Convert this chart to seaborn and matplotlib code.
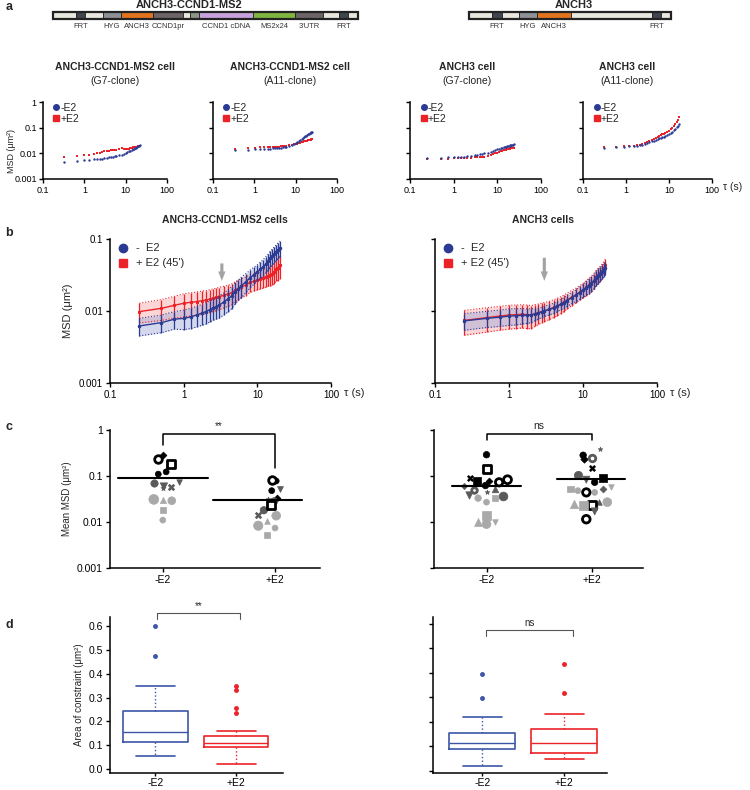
import numpy as np
import pandas as pd
import matplotlib
matplotlib.use("Agg")
import matplotlib.pyplot as plt
from matplotlib.lines import Line2D
from matplotlib.ticker import NullLocator
import seaborn as sns

sns.set_style("ticks")
plt.rcParams['font.family'] = ['Liberation Sans', 'DejaVu Sans']
plt.rcParams['font.size'] = 7.5
plt.rcParams['axes.edgecolor'] = 'black'
plt.rcParams['xtick.color'] = 'black'
plt.rcParams['ytick.color'] = 'black'

BLUE = "#2b3a93"
RED = "#ec2229"
LBLUE = "#9fa9d6"
LRED = "#f6a5a8"
SHADE = {'k': '#000000', 'd': '#5a5a5a', 'l': '#a9a9a9'}

# === gene constructs (segment widths, colours, labels) ===
gene1_w = [23, 9, 18, 18, 32, 30, 7, 9, 54, 42, 28, 16, 9, 10]
gene1_c = ['#e8e8de', '#40464e', '#e8e8de', '#8e9198', '#e2741f', '#6d6467', '#e8e8de',
           '#8d9586', '#c7a2dc', '#80b640', '#6d6467', '#e8e8de', '#40464e', '#e8e8de']
gene1_lab = ['', 'FRT', '', 'HYG', 'ANCH3', 'CCND1pr', '', '', 'CCND1 cDNA', 'MS2x24',
             "3'UTR", '', 'FRT', '']
gene2_w = [23, 10, 17, 18, 34, 81, 9, 10]
gene2_c = ['#e8e8de', '#40464e', '#e8e8de', '#8e9198', '#e2741f', '#e8e8de', '#40464e', '#e8e8de']
gene2_lab = ['', 'FRT', '', 'HYG', 'ANCH3', '', 'FRT', '']

# === a: MSD curves per clone ===
tau_a1 = [0.33, 0.67, 1.0, 1.33, 1.67, 2.0, 2.33, 2.67, 3.0, 3.5, 4.0, 4.5, 5.0, 5.5, 6.0, 7.0,
          8.0, 9.0, 10.0, 11.0, 12.0, 13.0, 14.0, 15.0, 16.0, 17.0, 18.0, 19.0, 20.0, 21.0, 22.0]
a1_neg = [0.0048, 0.005, 0.0055, 0.0056, 0.0058, 0.0059, 0.006, 0.0062, 0.0064, 0.0066, 0.0069,
          0.0071, 0.0074, 0.0076, 0.0079, 0.0084, 0.009, 0.0095, 0.0102, 0.011, 0.0118, 0.0127,
          0.0135, 0.0143, 0.015, 0.0158, 0.0166, 0.0175, 0.0185, 0.0196, 0.0208]
a1_pos = [0.0072, 0.0078, 0.0086, 0.009, 0.0094, 0.0099, 0.0105, 0.0115, 0.0125, 0.0126, 0.0128,
          0.013, 0.0135, 0.0138, 0.014, 0.015, 0.0156, 0.015, 0.0143, 0.0145, 0.015, 0.0158,
          0.0165, 0.017, 0.0172, 0.0175, 0.0178, 0.018, 0.0185, 0.0188, 0.019]

tau_a2 = [0.35, 0.7, 1.05, 1.4, 1.75, 2.1, 2.45, 2.8, 3.15, 3.5, 4.0, 4.5, 5.0, 5.5, 6.0, 7.0,
          8.0, 9.0, 10.0, 11.0, 12.0, 13.0, 14.0, 15.0, 16.0, 17.0, 18.0, 19.0, 20.0, 21.0, 22.0,
          23.0, 24.0, 25.0]
a2_neg = [0.0135, 0.0137, 0.0143, 0.0146, 0.0149, 0.0151, 0.0153, 0.0155, 0.0156, 0.0158, 0.016,
          0.0163, 0.017, 0.0175, 0.018, 0.019, 0.021, 0.023, 0.026, 0.028, 0.031, 0.034, 0.037,
          0.04, 0.043, 0.046, 0.049, 0.052, 0.055, 0.058, 0.061, 0.064, 0.067, 0.07]
a2_pos = [0.0147, 0.0155, 0.0166, 0.017, 0.0172, 0.0175, 0.0177, 0.0178, 0.018, 0.0182, 0.0184,
          0.0186, 0.019, 0.0195, 0.02, 0.021, 0.022, 0.0225, 0.023, 0.024, 0.025, 0.026, 0.027,
          0.028, 0.029, 0.0298, 0.0305, 0.031, 0.032, 0.033, 0.034, 0.0345, 0.035, 0.036]

tau_a3 = [0.25, 0.5, 0.75, 1.0, 1.25, 1.5, 1.75, 2.0, 2.5, 3.0, 3.5, 4.0, 4.5, 5.0, 6.0, 7.0,
          8.0, 9.0, 10.0, 11.0, 12.0, 13.0, 14.0, 15.0, 16.0, 17.0, 18.0, 19.0, 20.0, 21.0, 22.0,
          23.0, 24.0]
a3_neg = [0.0067, 0.0068, 0.0069, 0.007, 0.0071, 0.0072, 0.0074, 0.0078, 0.0082, 0.0086, 0.009,
          0.0093, 0.0096, 0.01, 0.0107, 0.0115, 0.0125, 0.0135, 0.0145, 0.0153, 0.016, 0.0166,
          0.0172, 0.0178, 0.0184, 0.019, 0.0195, 0.02, 0.0205, 0.021, 0.0215, 0.022, 0.0225]
a3_pos = [0.0058, 0.006, 0.0062, 0.0063, 0.0064, 0.0065, 0.0066, 0.0067, 0.0068, 0.0069, 0.007,
          0.0071, 0.0072, 0.0074, 0.008, 0.0088, 0.0095, 0.0101, 0.0106, 0.0112, 0.0118, 0.0124,
          0.013, 0.0135, 0.014, 0.0144, 0.0148, 0.0152, 0.0155, 0.0158, 0.016, 0.0162, 0.0164]

tau_a4 = [0.3, 0.6, 0.9, 1.2, 1.5, 1.8, 2.1, 2.4, 2.7, 3.0, 3.5, 4.0, 4.5, 5.0, 5.5, 6.0, 6.5,
          7.0, 7.5, 8.0, 9.0, 10.0, 11.0, 12.0, 13.0, 14.0, 15.0, 16.0, 17.0]
a4_neg = [0.0158, 0.017, 0.018, 0.0185, 0.019, 0.02, 0.021, 0.022, 0.0235, 0.025, 0.027, 0.029,
          0.031, 0.034, 0.036, 0.038, 0.04, 0.042, 0.045, 0.047, 0.051, 0.055, 0.062, 0.07, 0.08,
          0.092, 0.105, 0.12, 0.14]
a4_pos = [0.017, 0.0178, 0.0185, 0.019, 0.02, 0.021, 0.022, 0.024, 0.0255, 0.027, 0.03, 0.033,
          0.036, 0.04, 0.043, 0.047, 0.051, 0.055, 0.059, 0.063, 0.068, 0.075, 0.088, 0.1, 0.12,
          0.145, 0.17, 0.205, 0.25]

# === b: averaged MSD with SD ===
tau_b = [0.25, 0.5, 0.75, 1.0, 1.25, 1.5, 1.75, 2.0, 2.25, 2.5, 2.75, 3.0, 3.5, 4.0, 4.5, 5.0,
         5.5, 6.0, 7.0, 8.0, 9.0, 10.0, 11.0, 12.0, 13.0, 14.0, 15.0, 16.0, 17.0, 18.0, 19.0, 20.0]
bL_neg = [0.0062, 0.0069, 0.0077, 0.0079, 0.0083, 0.0088, 0.0093, 0.0098, 0.0104, 0.011, 0.0115,
          0.012, 0.0133, 0.0147, 0.0163, 0.0185, 0.0205, 0.0222, 0.0255, 0.029, 0.032, 0.035,
          0.038, 0.041, 0.045, 0.049, 0.054, 0.058, 0.062, 0.066, 0.07, 0.075]
bL_neg_sd = [0.0017, 0.0019, 0.0021, 0.0024, 0.0026, 0.0028, 0.003, 0.0032, 0.0034, 0.0036,
             0.0038, 0.0041, 0.0045, 0.005, 0.0055, 0.006, 0.0065, 0.007, 0.0075, 0.008, 0.0085,
             0.0088, 0.0095, 0.0105, 0.0115, 0.0125, 0.0135, 0.0145, 0.0155, 0.0165, 0.0175, 0.019]
bL_pos = [0.0098, 0.0109, 0.012, 0.0128, 0.0132, 0.0135, 0.0139, 0.0142, 0.0146, 0.015, 0.0154,
          0.0158, 0.0165, 0.0172, 0.018, 0.0195, 0.0205, 0.0215, 0.023, 0.025, 0.026, 0.027,
          0.028, 0.029, 0.03, 0.031, 0.0315, 0.033, 0.035, 0.038, 0.04, 0.043]
bL_pos_sd = [0.003, 0.0035, 0.004, 0.0045, 0.0047, 0.0048, 0.005, 0.005, 0.0051, 0.0052, 0.0053,
             0.0054, 0.0055, 0.0056, 0.0058, 0.006, 0.0062, 0.0064, 0.0066, 0.0068, 0.007, 0.0074,
             0.0078, 0.0082, 0.0086, 0.009, 0.0095, 0.01, 0.011, 0.012, 0.0135, 0.015]
bR_neg = [0.0073, 0.0079, 0.0082, 0.0085, 0.0086, 0.0087, 0.0087, 0.0088, 0.0091, 0.0094, 0.0097,
          0.01, 0.0105, 0.011, 0.0117, 0.0124, 0.013, 0.0138, 0.0153, 0.0165, 0.018, 0.0194,
          0.021, 0.0225, 0.024, 0.026, 0.029, 0.031, 0.033, 0.035, 0.0375, 0.04]
bR_neg_sd = [0.0019, 0.002, 0.0021, 0.0022, 0.0022, 0.0021, 0.002, 0.0019, 0.0018, 0.0017,
             0.0016, 0.0016, 0.0017, 0.0018, 0.0019, 0.002, 0.0022, 0.0024, 0.0027, 0.003, 0.0035,
             0.004, 0.0045, 0.005, 0.0055, 0.006, 0.0065, 0.007, 0.0072, 0.0075, 0.0078, 0.008]
bR_pos = [0.0074, 0.0081, 0.0085, 0.0088, 0.0089, 0.009, 0.0089, 0.0088, 0.0092, 0.0095, 0.0098,
          0.0101, 0.0106, 0.0112, 0.0118, 0.0125, 0.0132, 0.014, 0.0155, 0.0168, 0.0182, 0.0197,
          0.0213, 0.0228, 0.0245, 0.0265, 0.0295, 0.0315, 0.0335, 0.036, 0.039, 0.043]
bR_pos_sd = [0.0028, 0.003, 0.0031, 0.0032, 0.0032, 0.0032, 0.0032, 0.0031, 0.0031, 0.003, 0.003,
             0.003, 0.003, 0.0031, 0.0032, 0.0033, 0.0034, 0.0035, 0.0037, 0.0039, 0.0042,
             0.0045, 0.005, 0.0055, 0.006, 0.0065, 0.007, 0.0075, 0.008, 0.0085, 0.0088, 0.009]

# === c: mean MSD per cell (value, x jitter, marker, shade, size) ===
cL_neg_val = [0.23, 0.29, 0.18, 0.11, 0.123, 0.069, 0.059, 0.054, 0.059, 0.072, 0.031, 0.030, 0.029, 0.018, 0.011]
cL_neg_off = [-0.04, 0.0, 0.07, -0.04, 0.03, -0.08, 0.01, 0.0, 0.07, 0.15, -0.08, 0.0, 0.08, 0.0, 0.0]
cL_neg_mk = ['ring', 'D', 'osq', 'o', 'o', 'o', 'v', '*', 'X', 'v', 'o', '^', 'o', 's', 'o']
cL_neg_sh = ['k', 'k', 'k', 'k', 'k', 'd', 'd', 'd', 'd', 'd', 'l', 'l', 'l', 'l', 'l']
cL_neg_sz = [30, 12, 30, 18, 18, 28, 28, 14, 28, 16, 50, 20, 32, 18, 18]
cL_pos_val = [0.08, 0.078, 0.048, 0.053, 0.032, 0.028, 0.033, 0.024, 0.018, 0.0145, 0.0083, 0.0103, 0.0137, 0.0074, 0.0053]
cL_pos_off = [-0.03, 0.01, -0.03, 0.04, -0.06, -0.01, 0.02, -0.04, -0.10, -0.15, -0.15, -0.07, 0.01, 0.0, -0.07]
cL_pos_mk = ['ring', 'o', 'o', 'v', '*', 'o', 'D', 'osq', 'o', 'X', 'o', '^', 'o', 'o', 's']
cL_pos_sh = ['k', 'k', 'k', 'd', 'd', 'd', 'k', 'k', 'd', 'd', 'l', 'l', 'l', 'l', 'l']
cL_pos_sz = [30, 18, 18, 18, 12, 28, 12, 30, 28, 28, 45, 16, 40, 18, 16]

cR_neg_val = [0.29, 0.139, 0.091, 0.076, 0.062, 0.077, 0.073, 0.083, 0.061, 0.05, 0.039, 0.052,
              0.044, 0.033, 0.033, 0.036, 0.027, 0.014, 0.01, 0.009, 0.01]
cR_neg_off = [0.0, 0.0, -0.16, -0.09, -0.01, 0.02, 0.12, 0.2, -0.21, -0.12, -0.17, 0.08, 0.0,
              -0.08, 0.08, 0.16, 0.0, 0.0, -0.08, 0.0, 0.08]
cR_neg_mk = ['o', 'osq', 'X', 's', 'o', 'D', 'ring', 'ring', 'D', 'ring', 'v', '^', '*', 'o', 's',
             'o', 'o', 's', '^', 'o', 'v']
cR_neg_sh = ['k', 'k', 'k', 'k', 'k', 'k', 'k', 'k', 'd', 'd', 'd', 'd', 'd', 'l', 'l', 'd', 'l',
             'l', 'l', 'l', 'l']
cR_neg_sz = [22, 32, 26, 32, 22, 12, 28, 32, 10, 16, 28, 22, 12, 22, 22, 40, 18, 40, 32, 40, 16]
cR_pos_val = [0.283, 0.24, 0.25, 0.38, 0.15, 0.107, 0.091, 0.083, 0.073, 0.052, 0.048, 0.044,
              0.044, 0.051, 0.057, 0.025, 0.023, 0.023, 0.027, 0.027, 0.017, 0.0115]
cR_pos_off = [-0.08, -0.07, 0.0, 0.08, 0.0, -0.13, 0.11, -0.05, 0.03, -0.2, -0.13, -0.05, 0.03,
              0.11, 0.19, -0.17, -0.08, 0.0, 0.07, 0.15, 0.03, -0.05]
cR_pos_mk = ['o', 'D', 'ring', '*', 'X', 'o', 's', 'v', 'o', 's', 'o', 'ring', 'o', 'D', 'v', '^',
             's', 'osq', '^', 'o', 'v', 'ring']
cR_pos_sh = ['k', 'k', 'd', 'd', 'k', 'd', 'k', 'd', 'k', 'l', 'l', 'k', 'l', 'd', 'l', 'l', 'l',
             'k', 'd', 'l', 'd', 'k']
cR_pos_sz = [22, 14, 22, 12, 26, 36, 36, 26, 22, 20, 18, 28, 18, 12, 16, 36, 40, 30, 16, 40, 26, 30]

cL_means = [0.09, 0.03]
cR_means = [0.06, 0.087]

# === d: area of constraint box stats ===
dL_med = [0.155, 0.11]
dL_q1 = [0.112, 0.091]
dL_q3 = [0.243, 0.139]
dL_lo = [0.055, 0.02]
dL_hi = [0.35, 0.161]
dL_fl = [[0.477, 0.601], [0.234, 0.255, 0.331, 0.347]]
dR_med = [0.113, 0.113]
dR_q1 = [0.09, 0.073]
dR_q3 = [0.153, 0.17]
dR_lo = [0.02, 0.048]
dR_hi = [0.22, 0.23]
dR_fl = [[0.295, 0.395], [0.315, 0.435]]

cats = ['-E2', '+E2']

W, H = 750, 790
fig = plt.figure(figsize=(7.5, 7.9), dpi=100)


def px_axes(l, t, r, b):
    return fig.add_axes([l / W, 1 - b / H, (r - l) / W, (b - t) / H])


def ftxt(x, y, s, **kw):
    kw.setdefault('ha', 'center')
    kw.setdefault('va', 'center')
    fig.text(x / W, 1 - y / H, s, **kw)


def style_ax(ax, size=7):
    sns.despine(ax=ax)
    ax.spines['left'].set_linewidth(1.1)
    ax.spines['bottom'].set_linewidth(1.1)
    ax.tick_params(length=3, width=1, pad=2, labelsize=size)


def log_axes(ax, ylo, yhi, ylabels=True, size=7):
    ax.set_xscale('log')
    ax.set_yscale('log')
    ax.set_xlim(0.1, 100)
    ax.set_ylim(ylo, yhi)
    ax.set_xticks([0.1, 1, 10, 100])
    ax.set_xticklabels(['0.1', '1', '10', '100'])
    yt = [v for v in [0.001, 0.01, 0.1, 1] if ylo <= v <= yhi]
    ax.set_yticks(yt)
    ax.set_yticklabels([('%g' % v) if ylabels else '' for v in yt])
    ax.xaxis.set_minor_locator(NullLocator())
    ax.yaxis.set_minor_locator(NullLocator())
    style_ax(ax, size)


# --- gene diagrams ---
def gene(l, r, widths, colors, labels):
    ax = px_axes(l, 12, r, 19)
    lefts = np.concatenate([[0], np.cumsum(widths)[:-1]])
    ax.barh(0, widths, left=lefts, height=1, color=colors, edgecolor='#222222', linewidth=0.6)
    for x0, w, lab in zip(lefts, widths, labels):
        if lab:
            ax.text(x0 + w / 2, -1.5, lab, ha='center', va='center', fontsize=5.5,
                    color='#333333', clip_on=False)
    ax.set_xlim(0, sum(widths))
    ax.set_ylim(-0.5, 0.5)
    ax.axis('off')
    ax.add_patch(plt.Rectangle((0, -0.5), sum(widths), 1, fill=False, lw=1.6,
                               edgecolor='#222222', clip_on=False))


gene(53, 358, gene1_w, gene1_c, gene1_lab)
gene(469, 671, gene2_w, gene2_c, gene2_lab)
ftxt(189, 5, 'ANCH3-CCND1-MS2', fontweight='bold', fontsize=8)
ftxt(574, 5, 'ANCH3', fontweight='bold', fontsize=8)

# --- panel letters ---
for lab, y in [('a', 7), ('b', 233), ('c', 427), ('d', 625)]:
    ftxt(9, y, lab, fontweight='bold', fontsize=9)

# --- a: four clone MSD plots ---
row_a = [
    ((43, 167), tau_a1, a1_neg, a1_pos, 'ANCH3-CCND1-MS2 cell', '(G7-clone)', 115),
    ((213, 337), tau_a2, a2_neg, a2_pos, 'ANCH3-CCND1-MS2 cell', '(A11-clone)', 290),
    ((410, 541), tau_a3, a3_neg, a3_pos, 'ANCH3 cell', '(G7-clone)', 467),
    ((583, 712), tau_a4, a4_neg, a4_pos, 'ANCH3 cell', '(A11-clone)', 627),
]
for i, ((l, r), tau, yneg, ypos, t1, t2, tx) in enumerate(row_a):
    ax = px_axes(l, 102, r, 179)
    sns.scatterplot(x=tau, y=ypos, marker='s', s=3, color=RED, linewidth=0, ax=ax)
    sns.scatterplot(x=tau, y=yneg, marker='o', s=3, color=BLUE, linewidth=0, ax=ax)
    log_axes(ax, 0.001, 1, ylabels=(i == 0), size=6.5)
    ax.tick_params(axis='y', pad=1.5)
    hs = [Line2D([], [], marker='o', color=BLUE, ls='', ms=4),
          Line2D([], [], marker='s', color=RED, ls='', ms=4)]
    ax.legend(hs, ['-E2', '+E2'], loc='upper left', bbox_to_anchor=(0.05, 1.04), frameon=False,
              handlelength=0.6, handletextpad=0.1, labelspacing=0.05, fontsize=7.5,
              borderaxespad=0)
    ftxt(tx, 67, t1, fontweight='bold', fontsize=7.5)
    ftxt(tx, 81, t2, fontsize=7.5)
    if i == 0:
        ax.set_ylabel('MSD (μm²)', fontsize=6.5)
        ax.yaxis.set_label_coords(-0.215, 0.36)
ftxt(733, 187, 'τ (s)', fontsize=7.5)

# --- b: averaged MSD ---
panel_b = [
    ((110, 331), bL_neg, bL_neg_sd, bL_pos, bL_pos_sd, 'ANCH3-CCND1-MS2 cells', 225, True, 3.3, 0.05),
    ((435, 657), bR_neg, bR_neg_sd, bR_pos, bR_pos_sd, 'ANCH3 cells', 543, False, 3.0, 0.06),
]
for (l, r), yneg, sneg, ypos, spos, title, tx, ylab, arr_x, arr_y in panel_b:
    ax = px_axes(l, 239, r, 383)
    for y, sd, dark, light, mk in [(ypos, spos, RED, LRED, 's'), (yneg, sneg, BLUE, LBLUE, 'o')]:
        y = np.array(y)
        sd = np.array(sd)
        ax.fill_between(tau_b, y - sd, y + sd, color=light, alpha=0.45, lw=0)
        ax.vlines(tau_b, y - sd, y + sd, color=dark, lw=0.9)
        ax.plot(tau_b, y - sd, ls=':', color=dark, lw=0.8)
        ax.plot(tau_b, y + sd, ls=':', color=dark, lw=0.8)
        sns.lineplot(x=tau_b, y=y, color=dark, lw=1.0, marker=mk, ms=1.8, mec=dark, ax=ax)
    log_axes(ax, 0.001, 0.1, ylabels=ylab, size=7)
    ax.annotate('', xy=(arr_x, 0.024), xytext=(arr_x, arr_y),
                arrowprops=dict(arrowstyle='simple,head_width=0.7,head_length=0.9,tail_width=0.3',
                                color='#a3a3a3', lw=0))
    hs = [Line2D([], [], marker='o', color=BLUE, ls='', ms=6),
          Line2D([], [], marker='s', color=RED, ls='', ms=6)]
    ax.legend(hs, ['-  E2', "+ E2 (45')"], loc='upper left', bbox_to_anchor=(0.01, 1.0),
              frameon=False, handlelength=1.2, handletextpad=0.5, labelspacing=0.45,
              fontsize=8, borderaxespad=0)
    ftxt(tx, 220, title, fontweight='bold', fontsize=7.5)
    ftxt(r + 23, 393, 'τ (s)', fontsize=8)
    if ylab:
        ax.set_ylabel('MSD (μm²)', fontsize=8, labelpad=4)


# --- c: mean MSD scatter ---
def marker_scatter(ax, pos, vals, offs, mks, shs, szs):
    df = pd.DataFrame({'x': [pos + o for o in offs], 'y': vals, 'mk': mks, 'sh': shs, 'sz': szs})
    for (mk, sh), g in df.groupby(['mk', 'sh']):
        col = SHADE[sh]
        if mk in ('ring', 'osq'):
            sns.scatterplot(data=g, x='x', y='y', marker='o' if mk == 'ring' else 's',
                            s=g['sz'].values, facecolor='white', edgecolor=col, linewidth=2.0,
                            ax=ax, zorder=3)
        else:
            sns.scatterplot(data=g, x='x', y='y', marker=mk, s=g['sz'].values, color=col,
                            edgecolor=col, linewidth=0.5 if mk != 'X' else 0, ax=ax, zorder=3)


panel_c = [
    ((110, 320), (-0.47, 1.40), cL_neg_val, cL_neg_off, cL_neg_mk, cL_neg_sh, cL_neg_sz,
     cL_pos_val, cL_pos_off, cL_pos_mk, cL_pos_sh, cL_pos_sz, cL_means,
     [(-0.40, 0.40), (-0.55, 0.24)], '**', (0.47, 0.15), True),
    ((434, 643), (-0.5, 1.49), cR_neg_val, cR_neg_off, cR_neg_mk, cR_neg_sh, cR_neg_sz,
     cR_pos_val, cR_pos_off, cR_pos_mk, cR_pos_sh, cR_pos_sz, cR_means,
     [(-0.33, 0.33), (-0.33, 0.32)], 'ns', (0.6, 0.6), False),
]
for ((l, r), xl, nv, no, nm, nsh, nsz, pv, po, pm, psh, psz, means, spans, sig, ends,
     ylab) in panel_c:
    ax = px_axes(l, 430, r, 568)
    marker_scatter(ax, 0, nv, no, nm, nsh, nsz)
    marker_scatter(ax, 1, pv, po, pm, psh, psz)
    for i, (m, (a, b)) in enumerate(zip(means, spans)):
        ax.plot([i + a, i + b], [m, m], color='black', lw=1.5, zorder=4)
    ax.set_yscale('log')
    ax.set_ylim(0.001, 1)
    ax.set_yticks([0.001, 0.01, 0.1, 1])
    ax.set_yticklabels(['0.001', '0.01', '0.1', '1'] if ylab else [''] * 4)
    ax.yaxis.set_minor_locator(NullLocator())
    ax.set_xlim(*xl)
    ax.set_xticks([0, 1])
    ax.set_xticklabels(cats)
    ax.set_xlabel('')
    ax.set_ylabel('')
    style_ax(ax, 7.5)
    top = 0.83
    ax.plot([0, 0, 1, 1], [ends[0], top, top, ends[1]], color='black', lw=1.1, clip_on=False)
    ax.text(0.5, top * 1.12, sig, ha='center', va='bottom', fontsize=7 if sig == '**' else 7.5,
            clip_on=False)
    if ylab:
        ax.set_ylabel('Mean MSD (μm²)', fontsize=7, labelpad=4)


# --- d: box plots ---
panel_d = [
    ((110, 617, 283, 773), (-0.56, 1.58), (-0.018, 0.64), dL_med, dL_q1, dL_q3, dL_lo, dL_hi,
     dL_fl, '**', (0.02, 1.05), 0.655, True),
    ((433, 617, 607, 773), (-0.6, 1.52), (-0.01, 0.627), dR_med, dR_q1, dR_q3, dR_lo, dR_hi,
     dR_fl, 'ns', (0.05, 1.1), 0.573, False),
]
for (l, t, r, b), xl, yl, med, q1, q3, lo, hi, fl, sig, (bx0, bx1), by, ylab in panel_d:
    ax = px_axes(l, t, r, b)
    for i, (dark, fcol) in enumerate([('#3b56a6', '#3b56a6'), (RED, RED)]):
        st = [dict(med=med[i], q1=q1[i], q3=q3[i], whislo=lo[i], whishi=hi[i], fliers=fl[i])]
        ax.bxp(st, positions=[i], widths=0.8, capwidths=0.48, showfliers=True,
               boxprops=dict(color=dark, lw=1.2),
               whiskerprops=dict(color=dark, lw=1.0, ls=':'),
               capprops=dict(color=dark, lw=1.2),
               medianprops=dict(color=dark, lw=1.0),
               flierprops=dict(marker='o', ms=2.5, mfc=fcol, mec=fcol))
    ax.set_xlim(*xl)
    ax.set_ylim(*yl)
    ax.set_xticks([0, 1])
    ax.set_xticklabels(cats)
    ax.set_yticks([0.0, 0.1, 0.2, 0.3, 0.4, 0.5, 0.6])
    ax.set_yticklabels(['%.1f' % v for v in [0, 0.1, 0.2, 0.3, 0.4, 0.5, 0.6]] if ylab else [''] * 7)
    style_ax(ax, 7.5)
    ax.tick_params(axis='x', length=2.5, pad=1)
    drop = 0.025
    ax.plot([bx0, bx0, bx1, bx1], [by - drop, by, by, by - drop], color='#555555', lw=0.8,
            clip_on=False)
    ax.text((bx0 + bx1) / 2, by + 0.008, sig, ha='center', va='bottom', fontsize=7,
            clip_on=False)
    if ylab:
        ax.set_ylabel('Area of constraint (μm²)', fontsize=7, labelpad=3)

fig.savefig('out.png', dpi=100)
